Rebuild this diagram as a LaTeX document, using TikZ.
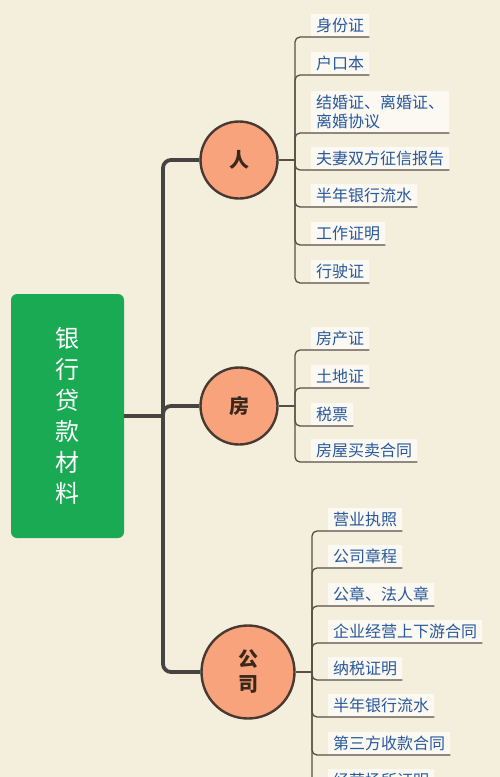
\documentclass[tikz,border=0pt]{standalone}
\usepackage{fontspec}
\newfontfamily\cjk{Noto Sans CJK SC}
\definecolor{bgc}{RGB}{244,239,220}
\definecolor{greenbox}{RGB}{26,170,84}
\definecolor{circfill}{RGB}{249,163,124}
\definecolor{circline}{RGB}{72,58,50}
\definecolor{trunkc}{RGB}{70,68,66}
\definecolor{thinc}{RGB}{88,78,70}
\definecolor{txtblue}{RGB}{40,88,156}
\definecolor{circtxt}{RGB}{58,40,30}
\tikzset{
  rootbox/.style={fill=greenbox, rounded corners=6pt, minimum width=113pt, minimum height=244pt, text=white, font=\cjk\fontsize{24}{31}\selectfont, align=center, inner sep=0pt},
  circ/.style={circle, fill=circfill, draw=circline, line width=2.4pt, text=circtxt, font=\cjk\bfseries\fontsize{20}{25}\selectfont, align=center, inner sep=0pt},
  trunk/.style={draw=trunkc, line width=3.8pt, rounded corners=8pt},
  thin/.style={draw=thinc, line width=1.3pt, rounded corners=5pt},
  lbl/.style={anchor=south west, inner xsep=5pt, inner ysep=4pt, fill=white, fill opacity=0.65, text opacity=1, text=txtblue, font=\cjk\fontsize{16}{19}\selectfont, align=left}
}
\begin{document}
\begin{tikzpicture}[x=1pt, y=-1pt]
\useasboundingbox (0,0) rectangle (500,777);
\fill[bgc] (0,0) rectangle (500,777);

% root
\node[rootbox] (root) at (67.5,416) {银\\行\\贷\\款\\材\\料};

% circles
\node[circ, minimum size=77pt] (ren) at (239,160) {人};
\node[circ, minimum size=77pt] (fang) at (239,406) {房};
\node[circ, minimum size=93pt] (gs) at (248,672) {公\\司};

% trunk
\coordinate (hub) at (163,416);
\draw[trunk] (root.east |- hub) -- (hub);
\draw[trunk] (hub) |- (ren.west);
\draw[trunk] (hub) |- (fang.west);
\draw[trunk] (hub) |- (gs.west);

% hubs for children
\coordinate (hren) at (295,160);
\coordinate (hfang) at (295,406);
\coordinate (hgs) at (312,672);
\draw[thin] (ren.east) -- (hren);
\draw[thin] (fang.east) -- (hfang);
\draw[thin] (gs.east) -- (hgs);

% 人 children
\node[lbl] (r1) at (311,37) {身份证};
\node[lbl] (r2) at (311,75) {户口本};
\node[lbl] (r3) at (311,133) {结婚证、离婚证、\\离婚协议};
\node[lbl] (r4) at (311,170) {夫妻双方征信报告};
\node[lbl] (r5) at (311,207) {半年银行流水};
\node[lbl] (r6) at (311,245) {工作证明};
\node[lbl] (r7) at (311,283) {行驶证};
\foreach \n in {r1,r2,r3,r4,r5,r6,r7} \draw[thin] (hren) |- (\n.south east);

% 房 children
\node[lbl] (f1) at (311,350) {房产证};
\node[lbl] (f2) at (311,388) {土地证};
\node[lbl] (f3) at (311,426) {税票};
\node[lbl] (f4) at (311,462) {房屋买卖合同};
\foreach \n in {f1,f2,f3,f4} \draw[thin] (hfang) |- (\n.south east);

% 公司 children
\node[lbl] (g1) at (328,531) {营业执照};
\node[lbl] (g2) at (328,568) {公司章程};
\node[lbl] (g3) at (328,606) {公章、法人章};
\node[lbl] (g4) at (328,643) {企业经营上下游合同};
\node[lbl] (g5) at (328,680) {纳税证明};
\node[lbl] (g6) at (328,717) {半年银行流水};
\node[lbl] (g7) at (328,755) {第三方收款合同};
\node[lbl] (g8) at (328,792) {经营场所证明};
\foreach \n in {g1,g2,g3,g4,g5,g6,g7,g8} \draw[thin] (hgs) |- (\n.south east);
\end{tikzpicture}
\end{document}
